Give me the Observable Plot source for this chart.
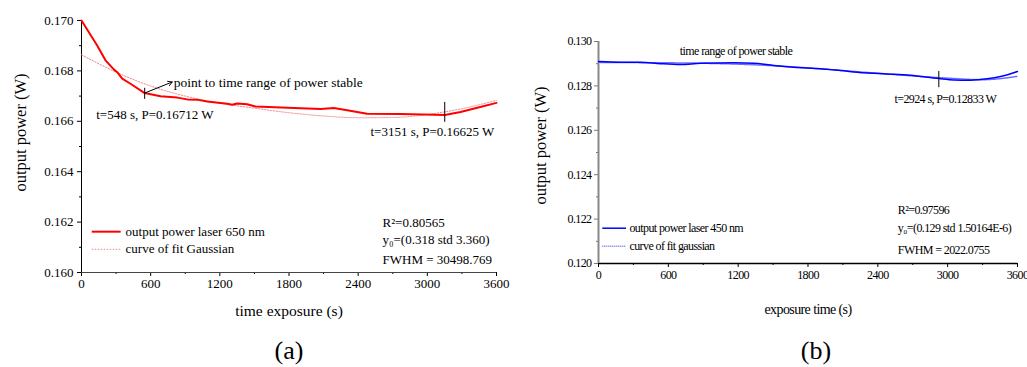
<!DOCTYPE html>
<html><head><meta charset="utf-8">
<script src="https://cdn.jsdelivr.net/npm/d3@7"></script>
<script src="https://cdn.jsdelivr.net/npm/@observablehq/plot@0.6"></script>
<style>
body{margin:0;background:#fff;}
#wrap{position:relative;width:1027px;height:367px;font-family:"Liberation Serif","Times New Roman",serif;}
#a{position:absolute;left:0;top:0;}
#b{position:absolute;left:520px;top:0;}
.cap{position:absolute;top:336px;font-size:26px;line-height:normal;transform:translateX(-50%);color:#000;}
</style></head><body>
<div id="wrap"><div id="a"></div><div id="b"></div>
<div class="cap" style="left:289px">(a)</div><div class="cap" style="left:816px">(b)</div></div>
<script>
// ---------- data ----------
const xTicks = [0, 600, 1200, 1800, 2400, 3000, 3600];
const xMinor = [300, 900, 1500, 2100, 2700, 3300];
const yTicksA = [0.160, 0.162, 0.164, 0.166, 0.168, 0.170];
const yMinorA = [0.161, 0.163, 0.165, 0.167, 0.169];
const yTicksB = [0.120, 0.122, 0.124, 0.126, 0.128, 0.130];
const yMinorB = [0.121, 0.123, 0.125, 0.127, 0.129];

// (a) laser 650 nm
const tRed = [0,136,208,280,310,353,425,548,685,830,917,1003,1090,1264,1307,1351,1437,1509,2073,2189,2305,2478,2767,3151,3288,3433,3600];
const pRed = [0.17000,0.16901,0.16842,0.16806,0.16795,0.16769,0.16749,0.16712,0.16699,0.16694,0.16687,0.16686,0.16679,0.16670,0.16666,0.16671,0.16668,0.16659,0.16649,0.16653,0.16644,0.16630,0.16629,0.16625,0.16637,0.16654,0.16673];
const tFitA = [0,300,600,900,1200,1500,1800,2100,2400,2700,3000,3300,3600];
const pFitA = [0.16864,0.16795,0.16740,0.16700,0.16672,0.16652,0.16634,0.16621,0.16614,0.16615,0.16627,0.16650,0.16683];

// (b) laser 450 nm
const tBlue = [0,189,361,533,705,877,1163,1335,1507,1679,1908,2079,2280,2480,2681,2924,3053,3196,3339,3454,3600];
const pBlue = [0.12910,0.12907,0.12907,0.12900,0.12896,0.12902,0.12904,0.12902,0.12892,0.12884,0.12877,0.12869,0.12859,0.12854,0.12848,0.12833,0.12827,0.12826,0.12832,0.12842,0.12865];
const tFitB = [0,300,600,900,1200,1500,1800,2100,2400,2700,3000,3300,3600];
const pFitB = [0.12906,0.12905,0.12904,0.12902,0.12898,0.12891,0.12881,0.12869,0.12857,0.12845,0.12835,0.12828,0.12843];

const legendA = ["output power laser 650 nm", "curve of fit Gaussian"];
const statsA = ["R²=0.80565", "y₀=(0.318 std 3.360)", "FWHM = 30498.769"];
const legendB = ["output power laser 450 nm", "curve of fit gaussian"];
const statsB = ["R²=0.97596", "y₀=(0.129 std 1.50164E-6)", "FWHM = 2022.0755"];

const rows = (ts, ps) => ts.map((t, i) => ({t, p: ps[i]}));
const fmtY = d3.format(".3f");
const fmtX = d3.format("d");
const blank = () => "";

// ---------- (a) ----------
const A = Plot.plot({
  width: 520, height: 330,
  marginLeft: 81, marginRight: 24, marginTop: 20, marginBottom: 58,
  x: {domain: [0, 3600]},
  y: {domain: [0.160, 0.170]},
  style: {fontFamily: "Liberation Serif, serif", fontSize: "13px", color: "#000", background: "transparent", overflow: "visible"},
  marks: [
    Plot.axisY({ticks: yTicksA, tickSize: 4, tickPadding: 4, tickFormat: fmtY, label: null, fontSize: 13}),
    Plot.axisY({ticks: yMinorA, tickSize: 2, tickFormat: blank, label: null}),
    Plot.axisX({ticks: xTicks, tickSize: 4, tickPadding: 2, tickFormat: fmtX, label: null, fontSize: 13}),
    Plot.axisX({ticks: xMinor, tickSize: 2, tickFormat: blank, label: null}),
    Plot.ruleY([0.160], {stroke: "#444"}),
    Plot.ruleX([0], {stroke: "#000"}),
    Plot.line(rows(tFitA, pFitA), {x: "t", y: "p", stroke: "#f08a8a", strokeWidth: 1, strokeDasharray: "1.5,1.5", curve: "monotone-x"}),
    Plot.line(rows(tRed, pRed), {x: "t", y: "p", stroke: "#ff0000", strokeWidth: 2}),
    Plot.ruleX([548], {y1: 0.16731, y2: 0.16687, stroke: "#000"}),
    Plot.ruleX([3151], {y1: 0.16675, y2: 0.16596, stroke: "#000"}),
    Plot.arrow({length: 1}, {x1: 548, y1: 0.16712, x2: 787, y2: 0.16756, stroke: "#000", strokeWidth: 1, headLength: 7}),
    Plot.text(["point to time range of power stable"], {x: 800, y: 0.16754, text: d => d, textAnchor: "start", fontSize: 13.5}),
    Plot.text(["t=548 s, P=0.16712 W"], {x: 128, y: 0.16624, text: d => d, textAnchor: "start", fontSize: 13}),
    Plot.text(["t=3151 s, P=0.16625 W"], {x: 2507, y: 0.16558, text: d => d, textAnchor: "start", fontSize: 13}),
    Plot.ruleY([0.16162], {x1: 93, x2: 344, stroke: "#ff0000", strokeWidth: 2}),
    Plot.ruleY([0.16092], {x1: 93, x2: 344, stroke: "#f08a8a", strokeWidth: 1, strokeDasharray: "1.5,1.5"}),
    Plot.text(legendA, {x: 382, y: (d, i) => [0.16162, 0.16092][i], text: d => d, textAnchor: "start", fontSize: 13}),
    Plot.text(statsA, {x: 2611, y: (d, i) => [0.16199, 0.16131, 0.16050][i], text: d => d, textAnchor: "start", fontSize: 13}),
    Plot.text(["output power (W)"], {frameAnchor: "left", textAnchor: "middle", lineAnchor: "middle", dx: -61, dy: -14, rotate: -90, text: d => d, fontSize: 16.5}),
    Plot.text(["time exposure (s)"], {frameAnchor: "bottom", textAnchor: "middle", lineAnchor: "middle", dy: 39, text: d => d, fontSize: 15.5})
  ]
});
document.getElementById("a").appendChild(A);

// ---------- (b) ----------
const B = Plot.plot({
  width: 507, height: 330,
  marginLeft: 78, marginRight: 10, marginTop: 41, marginBottom: 67,
  x: {domain: [0, 3600]},
  y: {domain: [0.120, 0.130]},
  style: {fontFamily: "Liberation Serif, serif", fontSize: "12px", color: "#000", background: "transparent", overflow: "visible", letterSpacing: "-0.6px"},
  marks: [
    Plot.axisY({ticks: yTicksB, tickSize: 4, tickPadding: 3, tickFormat: fmtY, label: null, fontSize: 12, stroke: "#777"}),
    Plot.axisY({ticks: yMinorB, tickSize: 2, tickFormat: blank, label: null, stroke: "#777"}),
    Plot.axisX({ticks: xTicks, tickSize: 4, tickPadding: 3, tickFormat: fmtX, label: null, fontSize: 12}),
    Plot.axisX({ticks: xMinor, tickSize: 2, tickFormat: blank, label: null}),
    Plot.ruleY([0.120], {stroke: "#000", strokeWidth: 1.5}),
    Plot.ruleX([0], {stroke: "#888", strokeWidth: 2}),
    Plot.line(rows(tFitB, pFitB), {x: "t", y: "p", stroke: "#6b6bff", strokeWidth: 1.5, strokeDasharray: "1,1", curve: "monotone-x"}),
    Plot.line(rows(tBlue, pBlue), {x: "t", y: "p", stroke: "#0000ff", strokeWidth: 1.5, curve: "monotone-x"}),
    Plot.ruleX([2924], {y1: 0.12865, y2: 0.12792, stroke: "#000"}),
    Plot.text(["time range of power stable"], {x: 699, y: 0.12955, text: d => d, textAnchor: "start", fontSize: 12}),
    Plot.text(["t=2924 s, P=0.12833 W"], {x: 2543, y: 0.12740, text: d => d, textAnchor: "start", fontSize: 12}),
    Plot.ruleY([0.12159], {x1: 37, x2: 241, stroke: "#0000ff", strokeWidth: 1.5}),
    Plot.ruleY([0.12078], {x1: 37, x2: 241, stroke: "#6b6bff", strokeWidth: 1.5, strokeDasharray: "1,1"}),
    Plot.text(legendB, {x: 266, y: (d, i) => [0.12159, 0.12078][i], text: d => d, textAnchor: "start", fontSize: 12}),
    Plot.text(statsB, {x: 2572, y: (d, i) => [0.12239, 0.12159, 0.12059][i], text: d => d, textAnchor: "start", fontSize: 12}),
    Plot.text(["output power (W)"], {frameAnchor: "left", textAnchor: "middle", lineAnchor: "middle", dx: -58, dy: -7, rotate: -90, text: d => d, fontSize: 16.5}),
    Plot.text(["exposure time (s)"], {frameAnchor: "bottom", textAnchor: "middle", lineAnchor: "middle", dy: 46, text: d => d, fontSize: 14})
  ]
});
d3.select(B).selectAll("text").filter(function () { return this.textContent === "output power (W)"; }).style("letter-spacing", "0px");
document.getElementById("b").appendChild(B);
</script>
</body></html>
